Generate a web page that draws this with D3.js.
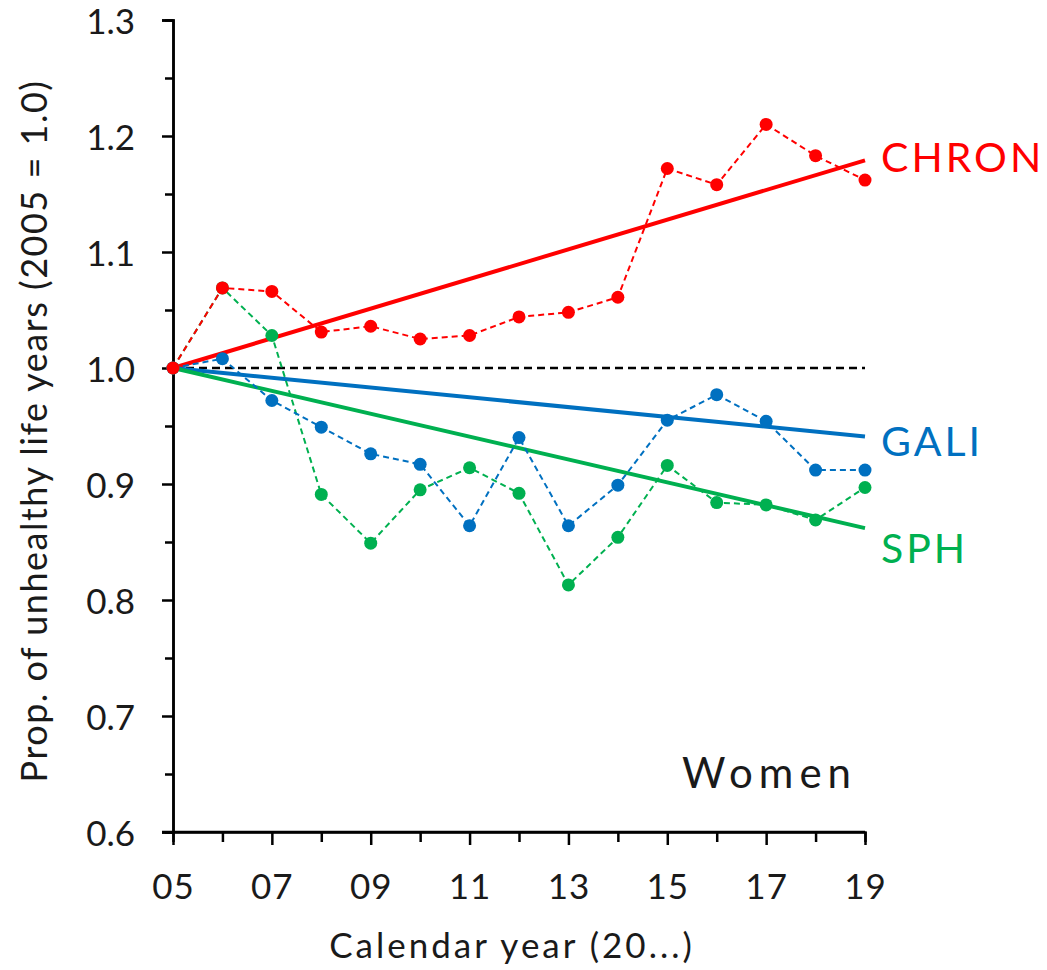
<!DOCTYPE html>
<html>
<head>
<meta charset="utf-8">
<script src="https://cdn.jsdelivr.net/npm/d3@7"></script>
<style>
  body { margin: 0; background: #fff; }
  svg text { font-family: Lato, "Open Sans", sans-serif; fill: #1a1a1a; }
</style>
</head>
<body>
<svg id="chart" width="1047" height="970"></svg>
<script>
// data
const years = [5, 6, 7, 8, 9, 10, 11, 12, 13, 14, 15, 16, 17, 18, 19];
const chron = [1.0, 1.069, 1.066, 1.031, 1.036, 1.025, 1.028, 1.044, 1.048, 1.061, 1.172, 1.158, 1.210, 1.183, 1.162];
const gali  = [1.0, 1.008, 0.972, 0.949, 0.926, 0.917, 0.864, 0.940, 0.864, 0.899, 0.955, 0.977, 0.954, 0.912, 0.912];
const sph   = [1.0, 1.069, 1.028, 0.891, 0.849, 0.895, 0.914, 0.892, 0.813, 0.854, 0.916, 0.884, 0.882, 0.869, 0.897];
// fitted trend, value at 2005 and at 2019
const trendStart = [1.0, 1.0, 1.0];
const trendEnd = [1.179, 0.941, 0.862];
const seriesNames = ['CHRON', 'GALI', 'SPH'];
const seriesColors = ['#ff0000', '#0070c0', '#00b050'];
const yTicks = [0.6, 0.7, 0.8, 0.9, 1.0, 1.1, 1.2, 1.3];
const yMinor = [0.65, 0.75, 0.85, 0.95, 1.05, 1.15, 1.25];
const xTicks = [5, 7, 9, 11, 13, 15, 17, 19];
const xMinor = [6, 8, 10, 12, 14, 16, 18];

const labelShift = [-3, 5, 20];   // px nudge of end labels vs. trend end

const svg = d3.select('#chart');
const x = d3.scaleLinear().domain([5, 19]).range([173, 865]);
const y = d3.scaleLinear().domain([0.6, 1.3]).range([832, 20]);

const series = [chron, gali, sph].map((vals, i) => ({
  name: seriesNames[i], color: seriesColors[i],
  pts: years.map((yr, j) => ({ yr, v: vals[j] })),
  t0: trendStart[i], t1: trendEnd[i], shift: labelShift[i]
}));

// axes
const gx = svg.append('g').attr('transform', `translate(0,${y(0.6)})`)
  .call(d3.axisBottom(x).tickValues(xTicks).tickSize(13).tickPadding(29)
    .tickFormat(d => String(d).padStart(2, '0')));
gx.append('g').call(d3.axisBottom(x).tickValues(xMinor).tickSize(10).tickFormat(''));
const gy = svg.append('g').attr('transform', `translate(${x(5)},0)`)
  .call(d3.axisLeft(y).tickValues(yTicks).tickSize(11).tickPadding(27).tickFormat(d3.format('.1f')));
gy.append('g').call(d3.axisLeft(y).tickValues(yMinor).tickSize(8).tickFormat(''));
svg.selectAll('.domain').attr('stroke', '#000').attr('stroke-width', 2.5);
svg.selectAll('.tick line').attr('stroke', '#000').attr('stroke-width', 2.5);
svg.selectAll('.tick text').attr('font-size', 35).attr('fill', '#1a1a1a')
  .style('font-family', 'Lato, "Open Sans", sans-serif');
gx.selectAll('.tick text').attr('dy', '0.71em').style('letter-spacing', '1px');
gy.selectAll('.tick text').attr('dy', '0.38em');
// horizontal extension of the x-axis line to the left
gx.select('.domain').attr('d', `M${x(5) - 11},0H${x(19)}`);

// reference line at 1.0
svg.append('line')
  .attr('x1', x(5)).attr('x2', x(19)).attr('y1', y(1.0)).attr('y2', y(1.0))
  .attr('stroke', '#000').attr('stroke-width', 2.5).attr('stroke-dasharray', '8,5');

const line = d3.line().x(d => x(d.yr)).y(d => y(d.v));

// trend lines
series.forEach(s => {
  svg.append('line')
    .attr('x1', x(5)).attr('y1', y(s.t0)).attr('x2', x(19)).attr('y2', y(s.t1))
    .attr('stroke', s.color).attr('stroke-width', 4);
});

// observed series, drawn SPH first so CHRON sits on top
series.slice().reverse().forEach(s => {
  svg.append('path').datum(s.pts)
    .attr('d', line).attr('fill', 'none')
    .attr('stroke', s.color).attr('stroke-width', 2).attr('stroke-dasharray', '6,4');
  svg.selectAll(null).data(s.pts).enter().append('circle')
    .attr('cx', d => x(d.yr)).attr('cy', d => y(d.v)).attr('r', 6.5)
    .attr('fill', s.color);
});

// series labels at line ends
series.forEach(s => {
  svg.append('text')
    .attr('x', 881).attr('y', y(s.t1) + s.shift).attr('dy', '0.36em')
    .attr('font-size', 41).style('fill', s.color).style('letter-spacing', '3px')
    .text(s.name);
});

svg.append('text').attr('x', 857).attr('y', 788).attr('text-anchor', 'end')
  .attr('font-size', 42).style('letter-spacing', '6px').text('Women');

svg.append('text').attr('x', 512).attr('y', 958).attr('text-anchor', 'middle')
  .attr('font-size', 35).style('letter-spacing', '3px').text('Calendar year (20...)');

svg.append('text')
  .attr('transform', `translate(47,${431}) rotate(-90)`)
  .attr('text-anchor', 'middle').attr('font-size', 36).style('letter-spacing', '1.5px')
  .text('Prop. of unhealthy life years (2005 = 1.0)');
</script>
</body>
</html>
